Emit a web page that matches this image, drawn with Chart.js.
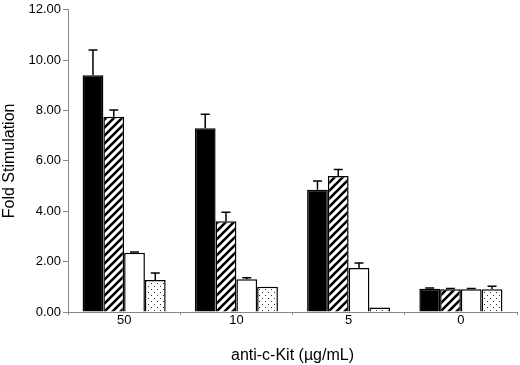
<!DOCTYPE html>
<html>
<head>
<meta charset="utf-8">
<script src="https://cdn.jsdelivr.net/npm/chart.js@4/dist/chart.umd.min.js"></script>
<style>
  html, body { margin: 0; padding: 0; background: #fff; }
  #wrap { width: 520px; height: 365px; }
</style>
</head>
<body>
<div id="wrap"><canvas id="fold_chart"></canvas></div>
<script>
// anti-c-Kit doses
const doses = ['50', '10', '5', '0'];

// bar heights (fold stimulation)
const solidVals   = [9.40, 7.30, 4.85, 0.92];
const hatchedVals = [7.75, 3.60, 5.40, 0.90];
const openVals    = [2.35, 1.30, 1.75, 0.90];
const dottedVals  = [1.27, 1.00, 0.18, 0.90];

// upper error (SD)
const solidErr   = [1.00, 0.55, 0.35, 0.03];
const hatchedErr = [0.27, 0.36, 0.26, 0.03];
const openErr    = [0.03, 0.06, 0.20, 0.03];
const dottedErr  = [0.28, 0.00, 0.00, 0.12];

const yTicks = [0, 2, 4, 6, 8, 10, 12];

// fill patterns
function hatchPattern() {
  const c = document.createElement('canvas');
  c.width = 8; c.height = 8;
  const g = c.getContext('2d');
  g.fillStyle = '#fff';
  g.fillRect(0, 0, 8, 8);
  g.strokeStyle = '#000';
  g.lineWidth = 2.6;
  g.beginPath();
  g.moveTo(-2, 10); g.lineTo(10, -2);
  g.moveTo(-2, 2); g.lineTo(2, -2);
  g.moveTo(6, 10); g.lineTo(10, 6);
  g.stroke();
  return g.createPattern(c, 'repeat');
}

function dotPattern() {
  const c = document.createElement('canvas');
  c.width = 6; c.height = 6;
  const g = c.getContext('2d');
  g.fillStyle = '#fff';
  g.fillRect(0, 0, 6, 6);
  g.fillStyle = '#333';
  g.fillRect(1, 1, 1, 1);
  g.fillRect(4, 4, 1, 1);
  return g.createPattern(c, 'repeat');
}

// draw the upward error bars
const errorBars = {
  id: 'errorBars',
  afterDatasetsDraw(chart) {
    const ctx = chart.ctx;
    const y = chart.scales.y;
    ctx.save();
    ctx.strokeStyle = '#000';
    ctx.lineWidth = 1.5;
    chart.data.datasets.forEach((ds, i) => {
      const meta = chart.getDatasetMeta(i);
      meta.data.forEach((bar, j) => {
        const e = ds.err[j];
        if (!e) return;
        const top = y.getPixelForValue(ds.data[j] + e);
        ctx.beginPath();
        ctx.moveTo(bar.x, bar.y);
        ctx.lineTo(bar.x, top);
        ctx.moveTo(bar.x - 4.5, top);
        ctx.lineTo(bar.x + 4.5, top);
        ctx.stroke();
      });
    });
    ctx.restore();
  }
};

function series(vals, err, fill) {
  return {
    data: vals,
    err: err,
    backgroundColor: fill,
    borderColor: '#000',
    borderWidth: 1.5,
    borderSkipped: 'bottom',
    categoryPercentage: 0.74,
    barPercentage: 1.0
  };
}

const ctx = document.getElementById('fold_chart').getContext('2d');
new Chart(ctx, {
  type: 'bar',
  data: {
    labels: doses,
    datasets: [
      series(solidVals, solidErr, '#000'),
      series(hatchedVals, hatchedErr, hatchPattern()),
      series(openVals, openErr, '#fff'),
      series(dottedVals, dottedErr, dotPattern())
    ]
  },
  options: {
    responsive: true,
    maintainAspectRatio: false,
    animation: false,
    layout: { padding: { top: 0, right: 3, left: 0, bottom: 0 } },
    plugins: { legend: { display: false }, tooltip: { enabled: false } },
    scales: {
      x: {
        grid: { offset: true, drawOnChartArea: false, color: '#888', tickLength: 3 },
        border: { color: '#888', width: 1 },
        ticks: { color: '#000', font: { family: 'Liberation Sans, Arial', size: 13 }, padding: -2 },
        title: {
          display: true, text: 'anti-c-Kit (\u00b5g/mL)', color: '#000',
          font: { family: 'Liberation Sans, Arial', size: 16 }, padding: { top: 7, bottom: 0 }
        },
        afterFit: s => { s.height = 53; }
      },
      y: {
        min: 0, max: 12,
        afterBuildTicks: s => { s.ticks = yTicks.map(v => ({ value: v })); },
        grid: { drawOnChartArea: false, color: '#888', tickLength: 5 },
        border: { color: '#888', width: 1 },
        ticks: {
          color: '#000', font: { family: 'Liberation Sans, Arial', size: 13 }, padding: 2,
          callback: v => Number(v).toFixed(2)
        },
        title: {
          display: true, text: 'Fold Stimulation', color: '#000',
          font: { family: 'Liberation Sans, Arial', size: 16 }, padding: { top: 0, bottom: 6 }
        },
        afterFit: s => { s.width = 68; }
      }
    }
  },
  plugins: [errorBars]
});
</script>
</body>
</html>
